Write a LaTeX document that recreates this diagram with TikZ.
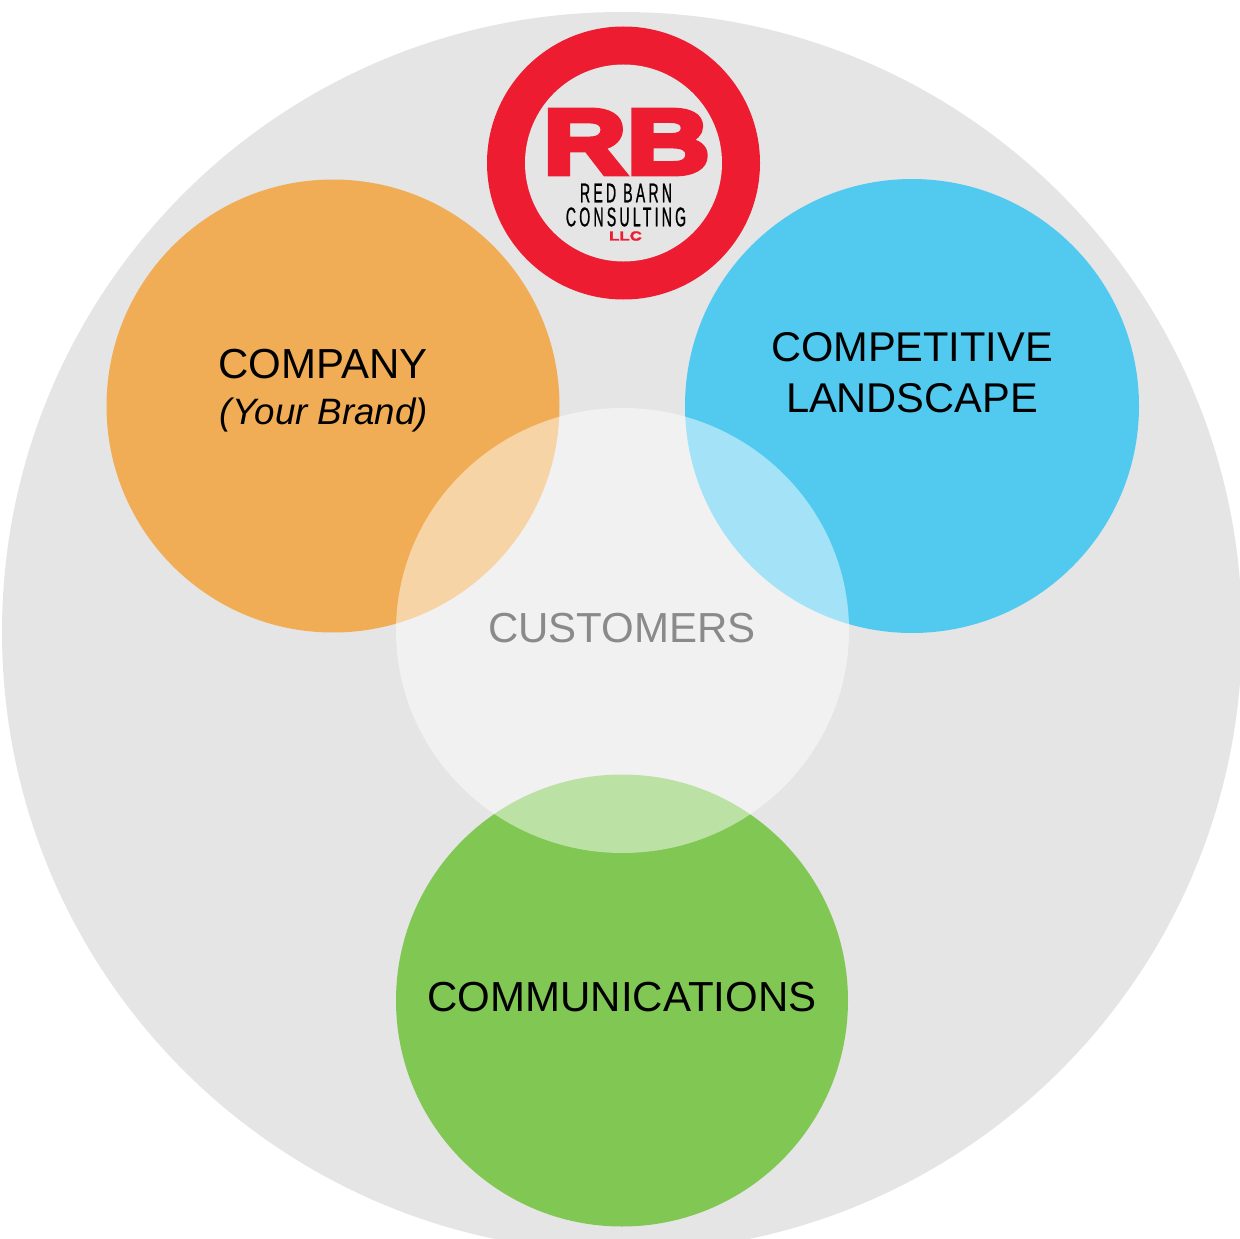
\documentclass[tikz,border=0pt]{standalone}
\usepackage{fontspec}
\usetikzlibrary{shapes.geometric}
\setmainfont{Liberation Sans}
\newfontfamily\rbfont[FakeBold=6,FakeStretch=1.26]{Liberation Sans Bold}
\newfontfamily\narrowfont[FakeStretch=0.52,LetterSpace=12,FakeBold=0.8]{Liberation Sans}
\newfontfamily\llcfont[FakeBold=2.5,FakeStretch=1.3]{Liberation Sans Bold}
\definecolor{bggrey}{HTML}{E5E5E5}
\definecolor{corange}{HTML}{F0AD55}
\definecolor{cblue}{HTML}{52CAF0}
\definecolor{cgreen}{HTML}{80C753}
\definecolor{rbred}{HTML}{ED1C30}
\definecolor{custgrey}{HTML}{8A8A8A}
\tikzset{
  disc/.style={circle,draw=none,inner sep=0pt,minimum size=#1},
  labeltext/.style={inner sep=0pt,align=center,text=black,font=\fontsize{42}{50.5}\selectfont},
  landtext/.style={labeltext,font=\fontsize{41.6}{50.5}\selectfont},
}
\begin{document}
\begin{tikzpicture}[x=1pt,y=-1pt]
\useasboundingbox (0,0) rectangle (1240,1239);
\fill[white] (0,0) rectangle (1240,1239);
\begin{scope}
\clip (0,0) rectangle (1240,1239);
\node[disc=1240pt,fill=bggrey] (outer) at (622,632) {};
\end{scope}
\node[disc=273pt,fill=rbred] (ring) at (623.5,163) {};
\node[disc=197pt,fill=bggrey] (ringin) at (ring.center) {};
\node[disc=453pt,fill=corange] (company) at (333,406) {};
\node[disc=454pt,fill=cblue] (landscape) at (912,406) {};
\node[disc=452pt,fill=cgreen] (comms) at (622,1000.5) {};
\node[ellipse,draw=none,inner sep=0pt,minimum width=453pt,minimum height=445pt,fill=white,fill opacity=0.48] (customers) at (622.5,630.5) {};
\node[inner sep=0pt,text=rbred,font=\rbfont\fontsize{92}{92}\selectfont] (rb) at (626.5,142) {RB};
\node[inner sep=0pt,text=black,font=\narrowfont\fontsize{27}{27}\selectfont] (redbarn) at (626,193) {RED BARN};
\node[inner sep=0pt,text=black,font=\narrowfont\fontsize{27}{27}\selectfont] (consulting) at (626,217) {CONSULTING};
\node[inner sep=0pt,text=rbred,font=\llcfont\fontsize{13}{13}\selectfont] (llc) at (625.5,236) {LLC};
\node[labeltext] (t1) at (323,364) {COMPANY};
\node[inner sep=0pt,text=black,font=\itshape\fontsize{36.7}{40}\selectfont] (t1b) at (324,414.5) {(Your Brand)};
\node[landtext] (t2) at (912,372.5) {COMPETITIVE\\LANDSCAPE};
\node[labeltext,text=custgrey] (t3) at (622,628) {CUSTOMERS};
\node[labeltext] (t4) at (622,997) {COMMUNICATIONS};
\end{tikzpicture}
\end{document}
